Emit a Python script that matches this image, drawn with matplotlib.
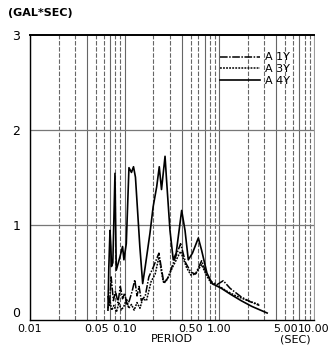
import matplotlib
matplotlib.use("Agg")
import matplotlib.pyplot as plt
import numpy as np

plt.rcParams['font.family'] = ['DejaVu Sans']

# ---- data ----
a4y_period = [0.0666, 0.0680, 0.0700, 0.0715, 0.0725, 0.0750, 0.0790, 0.0815, 0.0891, 0.0950,
              0.0982, 0.1040, 0.1110, 0.1180, 0.1240, 0.1300, 0.1446, 0.1550, 0.1650, 0.1850,
              0.200, 0.218, 0.232, 0.245, 0.267, 0.277, 0.301, 0.326, 0.350, 0.400,
              0.434, 0.470, 0.520, 0.600, 0.650, 0.740, 0.84, 1.05, 1.30, 1.70, 2.20, 3.20]
a4y_value = [0.10, 0.55, 0.94, 0.77, 0.56, 0.60, 1.54, 0.52, 0.66, 0.77,
             0.63, 0.80, 1.60, 1.55, 1.61, 1.50, 0.77, 0.38, 0.56, 0.91,
             1.19, 1.40, 1.61, 1.37, 1.72, 1.47, 0.94, 0.63, 0.70, 1.15,
             0.94, 0.63, 0.70, 0.86, 0.73, 0.49, 0.38, 0.33, 0.27, 0.20, 0.14, 0.07]

a1y_period = [0.0666, 0.0690, 0.0720, 0.0760, 0.0800, 0.0850, 0.0900, 0.0950, 0.1000, 0.1060,
              0.1120, 0.1200, 0.1280, 0.1350, 0.1420, 0.1500, 0.1650, 0.1800, 0.2000, 0.2300,
              0.2600, 0.2900, 0.3300, 0.3900, 0.4400, 0.5000, 0.5600, 0.6500, 0.7200, 0.8200,
              0.9500, 1.10, 1.30, 1.70, 2.10, 2.65]
a1y_value = [0.25, 0.15, 0.45, 0.20, 0.30, 0.18, 0.35, 0.22, 0.28, 0.15,
             0.20, 0.30, 0.42, 0.25, 0.35, 0.20, 0.25, 0.45, 0.55, 0.70,
             0.38, 0.45, 0.61, 0.80, 0.60, 0.50, 0.48, 0.62, 0.50, 0.40,
             0.37, 0.41, 0.33, 0.24, 0.19, 0.15]

a3y_period = [0.0666, 0.0700, 0.0730, 0.0770, 0.0820, 0.0870, 0.0920, 0.0980, 0.1050, 0.1100,
              0.1180, 0.1260, 0.1350, 0.1450, 0.1550, 0.1700, 0.1900, 0.2100, 0.2300, 0.2550,
              0.2800, 0.3200, 0.3900, 0.4500, 0.5000, 0.5600, 0.6500, 0.7200, 0.8200, 1.00,
              1.20, 1.50, 2.00, 2.60]
a3y_value = [0.12, 0.20, 0.10, 0.15, 0.08, 0.18, 0.10, 0.14, 0.22, 0.12,
             0.16, 0.10, 0.18, 0.12, 0.22, 0.20, 0.40, 0.48, 0.66, 0.40,
             0.42, 0.55, 0.72, 0.55, 0.47, 0.48, 0.58, 0.48, 0.38, 0.35,
             0.30, 0.25, 0.20, 0.16]

x_ticks = [0.01, 0.05, 0.10, 0.50, 1.00, 5.00, 10.00]
x_ticklabels = ['0.01', '0.05', '0.10', '0.50', '1.00', '5.00', '10.00']
y_ticks = [0, 1, 2, 3]

fig = plt.figure(figsize=(3.36, 3.54), dpi=100)
ax = fig.add_axes([0.0893, 0.097, 0.8452, 0.805])
ax.set_xscale('log')
ax.set_xlim(0.01, 10)
ax.set_ylim(0, 3)

# grid: vertical lines at every log minor position
grid_x = [m * 10.0 ** e for e in (-2, -1, 0) for m in range(1, 10)] + [10.0]
for i, gx in enumerate(grid_x):
    ls = '-' if i % 3 == 0 else (0, (4, 1.5))
    ax.axvline(gx, color='#666666', lw=0.8, ls=ls, zorder=0)
for gy in (1, 2):
    ax.axhline(gy, color='#777777', lw=0.9, zorder=0)

ax.plot(a1y_period, a1y_value, color='black', lw=1.1, ls=(0, (5, 1, 1, 1)), label='A 1Y')
ax.plot(a3y_period, a3y_value, color='black', lw=1.1, ls=(0, (1.2, 0.8)), label='A 3Y')
ax.plot(a4y_period, a4y_value, color='black', lw=1.2, ls='-', label='A 4Y')

ax.legend(loc='upper left', bbox_to_anchor=(0.64, 0.965), frameon=False, fontsize=8,
          handlelength=3.6, handletextpad=0.5, labelspacing=0.15, borderpad=0.2)

for s in ('left', 'bottom', 'top'):
    ax.spines[s].set_linewidth(1.0)
ax.spines['top'].set_linewidth(1.4)
ax.spines['right'].set_color('#888888')
ax.spines['right'].set_linewidth(0.6)

ax.set_xticks(x_ticks)
ax.set_xticklabels(x_ticklabels)
ax.xaxis.set_minor_locator(matplotlib.ticker.NullLocator())
ax.set_yticks(y_ticks)
ax.set_yticklabels(['0', '1', '2', '3'])
ax.tick_params(axis='both', length=0, labelsize=8)
ax.tick_params(axis='x', pad=3)
ax.tick_params(axis='y', pad=7, labelsize=9)
# the "0" label sits slightly above the axis line in the reference
ax.get_yticklabels()[0].set_va('bottom')

ax.text(0.5, -0.068, 'PERIOD', transform=ax.transAxes, ha='center', va='center', fontsize=8)
ax.text(0.935, -0.068, '(SEC)', transform=ax.transAxes, ha='center', va='center', fontsize=8)
fig.text(0.024, 0.962, '(GAL*SEC)', ha='left', va='center', fontsize=8, fontweight='bold')

fig.savefig('out.png', dpi=100)
